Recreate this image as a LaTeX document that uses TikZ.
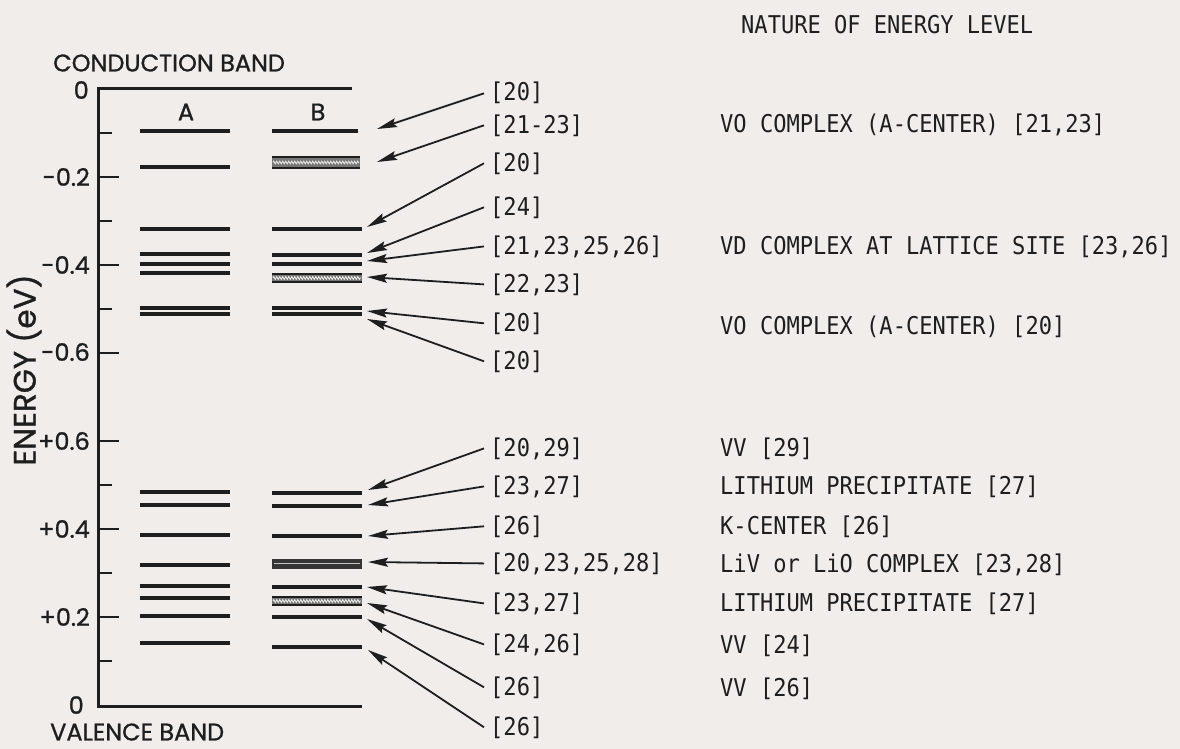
\documentclass[tikz,border=0pt]{standalone}
\usepackage{fontspec}
\newfontfamily\gfont[FakeBold=1]{Poppins}
\newfontfamily\tfont[FakeStretch=0.9]{DejaVu Sans Mono}
\usetikzlibrary{arrows.meta,decorations.pathmorphing}
\definecolor{paper}{RGB}{240,237,235}
\definecolor{ink}{RGB}{30,30,30}
\definecolor{bandgray}{RGB}{120,118,116}
\begin{document}
\begin{tikzpicture}[x=1pt,y=-1pt,
  lvl/.style={ink, line width=3.4pt},
  bandedge/.style={ink, line width=2.6pt},
  zig/.style={white!85!gray, line width=0.8pt, decorate, decoration={zigzag, segment length=3pt, amplitude=1.4pt}},
  axisline/.style={ink, line width=3pt, line join=miter},
  majortick/.style={ink, line width=2.6pt},
  minortick/.style={ink, line width=2.6pt},
  arr/.style={ink, line width=1.8pt, -{Stealth[length=20pt,width=9pt,inset=3pt]}},
  gtext/.style={font=\gfont\fontsize{24}{26}\selectfont, text=ink, inner sep=0pt},
  reflab/.style={font=\tfont\fontsize{24.5}{26}\selectfont, text=ink, inner xsep=6pt, inner ysep=0pt, anchor=base west},
  nat/.style={font=\tfont\fontsize{24.5}{26}\selectfont, text=ink, inner sep=0pt, anchor=base west},
]
\fill[paper] (0,0) rectangle (1180,749);
\useasboundingbox (0,0) rectangle (1180,749);

% frame and axis
\draw[axisline] (352,89) -- (98,89) -- (98,706) -- (362,706);
% major ticks
\foreach \yy in {177,265,353,441,529,617} \draw[majortick] (98,\yy) -- (119,\yy);
% minor ticks
\foreach \yy in {133,221,309,485,573,661} \draw[minortick] (98,\yy) -- (112,\yy);

% axis labels
\node[gtext, anchor=east] (l0t) at (89,90) {0};
\node[gtext, anchor=east] (lm2) at (90,177) {-0.2};
\node[gtext, anchor=east] (lm4) at (90,265) {-0.4};
\node[gtext, anchor=east] (lm6) at (90,352) {-0.6};
\node[gtext, anchor=east] (lp6) at (90,441) {+0.6};
\node[gtext, anchor=east] (lp4) at (90,529) {+0.4};
\node[gtext, anchor=east] (lp2) at (90,617) {+0.2};
\node[gtext, anchor=east] (l0b) at (84,705) {0};
\node[gtext, rotate=90, font=\gfont\fontsize{31}{33}\selectfont] (ylab) at (24,370) {ENERGY (eV)};
\node[gtext, anchor=west] (cb) at (53,63) {CONDUCTION BAND};
\node[gtext, anchor=west] (vb) at (50,732) {VALENCE BAND};
\node[gtext] (colA) at (186,112) {A};
\node[gtext] (colB) at (318,112) {B};

% column A levels
\foreach \yy in {131,167,229,254,264,273,308,314,492,505,535,565,586,598,616,643}
  \draw[lvl] (140,\yy) -- (230,\yy);

% column B single levels
\draw[lvl] (272,131) -- (358,131);
\foreach \yy in {229,255,264,308,314,493,506,536,587,617,647}
  \draw[lvl] (272,\yy) -- (362,\yy);
% column B bands
\fill[bandgray] (272,157) rectangle (360,168);
\draw[zig] (273,162.5) -- (359,162.5);
\draw[bandedge] (272,157) -- (360,157);
\draw[bandedge] (272,168) -- (360,168);
\fill[bandgray] (272,274) rectangle (362,282);
\draw[zig] (273,278) -- (361,278);
\draw[bandedge] (272,274) -- (362,274);
\draw[bandedge] (272,282) -- (362,282);
\fill[ink!90] (272,558.5) rectangle (362,568.5);
\draw[white!55!gray, line width=0.7pt] (274,563.5) -- (360,563.5);
\fill[bandgray] (272,597) rectangle (362,605);
\draw[zig] (273,601) -- (361,601);
\draw[bandedge] (272,597) -- (362,597);
\draw[bandedge] (272,605) -- (362,605);

% arrow tips
\coordinate (t1) at (377,129);
\coordinate (t2) at (377,162);
\coordinate (t3) at (367,227);
\coordinate (t4) at (367,253);
\coordinate (t5) at (367,261);
\coordinate (t6) at (367,277);
\coordinate (t7) at (367,311);
\coordinate (t8) at (367,319);
\coordinate (t9) at (368,490);
\coordinate (t10) at (368,505);
\coordinate (t11) at (368,536);
\coordinate (t12) at (368,562);
\coordinate (t13) at (367,587);
\coordinate (t14) at (367,603);
\coordinate (t15) at (367,619);
\coordinate (t16) at (368,650);

% reference labels
\node[reflab] (r1) at (484,101) {[20]};
\node[reflab] (r2) at (484,133) {[21-23]};
\node[reflab] (r3) at (484,171) {[20]};
\node[reflab] (r4) at (484,215) {[24]};
\node[reflab] (r5) at (484,254) {[21,23,25,26]};
\node[reflab] (r6) at (484,292) {[22,23]};
\node[reflab] (r7) at (484,331) {[20]};
\node[reflab] (r8) at (484,369) {[20]};
\node[reflab] (r9) at (484,456) {[20,29]};
\node[reflab] (r10) at (484,494) {[23,27]};
\node[reflab] (r11) at (484,534) {[26]};
\node[reflab] (r12) at (484,571) {[20,23,25,28]};
\node[reflab] (r13) at (484,611) {[23,27]};
\node[reflab] (r14) at (484,652) {[24,26]};
\node[reflab] (r15) at (484,695) {[26]};
\node[reflab] (r16) at (484,735) {[26]};

\foreach \i in {1,...,16} \draw[arr] (r\i.west) -- (t\i);

% nature of energy level
\node[nat] (hdr) at (741,34) {NATURE OF ENERGY LEVEL};
\node[nat] (n1) at (720,132) {VO COMPLEX (A-CENTER) [21,23]};
\node[nat] (n2) at (720,254) {VD COMPLEX AT LATTICE SITE [23,26]};
\node[nat] (n3) at (720,334) {VO COMPLEX (A-CENTER) [20]};
\node[nat] (n4) at (720,456) {VV [29]};
\node[nat] (n5) at (720,494) {LITHIUM PRECIPITATE [27]};
\node[nat] (n6) at (720,534) {K-CENTER [26]};
\node[nat] (n7) at (720,572) {LiV or LiO COMPLEX [23,28]};
\node[nat] (n8) at (720,611) {LITHIUM PRECIPITATE [27]};
\node[nat] (n9) at (720,653) {VV [24]};
\node[nat] (n10) at (720,696) {VV [26]};
\end{tikzpicture}
\end{document}
